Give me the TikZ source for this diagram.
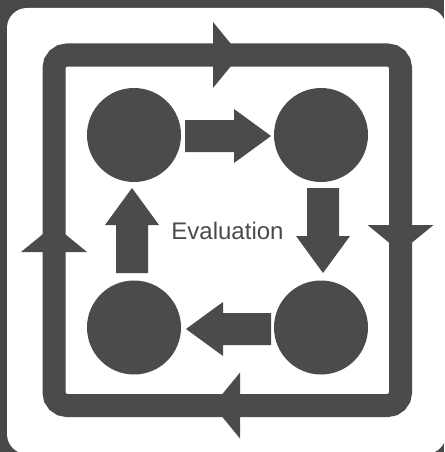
\documentclass[tikz,border=0pt]{standalone}
\usepackage{fontspec}
\setmainfont{Liberation Sans}
\definecolor{ink}{HTML}{4B4B4B}
\definecolor{bg}{HTML}{484848}
\begin{document}
\begin{tikzpicture}[x=1pt,y=-1pt,
  dot/.style={circle,fill=ink,draw=none,minimum size=94pt,inner sep=0pt},
  loopline/.style={draw=ink,line width=23pt,rounded corners=13pt},
  tri/.style={fill=ink,draw=none},
  blk/.style={fill=ink,draw=none}]
\useasboundingbox (0,0) rectangle (444,452);
\fill[bg] (0,0) rectangle (444,452);
\begin{scope}
\clip (0,0) rectangle (444,452);
\fill[white,rounded corners=20pt] (7,8) rectangle (446,454);
\end{scope}
% outer loop
\draw[loopline] (54,55) rectangle (400.5,405.5);
\fill[tri] (213,22) -- (240,55) -- (213,88) -- cycle;
\fill[tri] (367.5,225) -- (400.5,252) -- (433.5,225) -- cycle;
\fill[tri] (240,372.5) -- (213,405.5) -- (240,438.5) -- cycle;
\fill[tri] (21,252) -- (54,225) -- (87,252) -- cycle;
% circles
\node[dot] (tl) at (134,135) {};
\node[dot] (tr) at (321,135) {};
\node[dot] (bl) at (134,327.5) {};
\node[dot] (br) at (321,327.5) {};
% block arrows
\fill[blk] (185,120) -- (234,120) -- (234,109) -- (271,136) -- (234,163) -- (234,152) -- (185,152) -- cycle;
\fill[blk] (307,188) -- (307,236) -- (296,236) -- (323,273) -- (350,236) -- (339,236) -- (339,188) -- cycle;
\fill[blk] (271,313) -- (223,313) -- (223,302) -- (186,329) -- (223,356) -- (223,345) -- (271,345) -- cycle;
\fill[blk] (116,273) -- (116,225) -- (105,225) -- (132,188) -- (159,225) -- (148,225) -- (148,273) -- cycle;
% label
\node[anchor=base,text=ink,font=\fontsize{24}{28}\selectfont,inner sep=0pt] (lbl) at (227.5,239) {Evaluation};
\end{tikzpicture}
\end{document}
